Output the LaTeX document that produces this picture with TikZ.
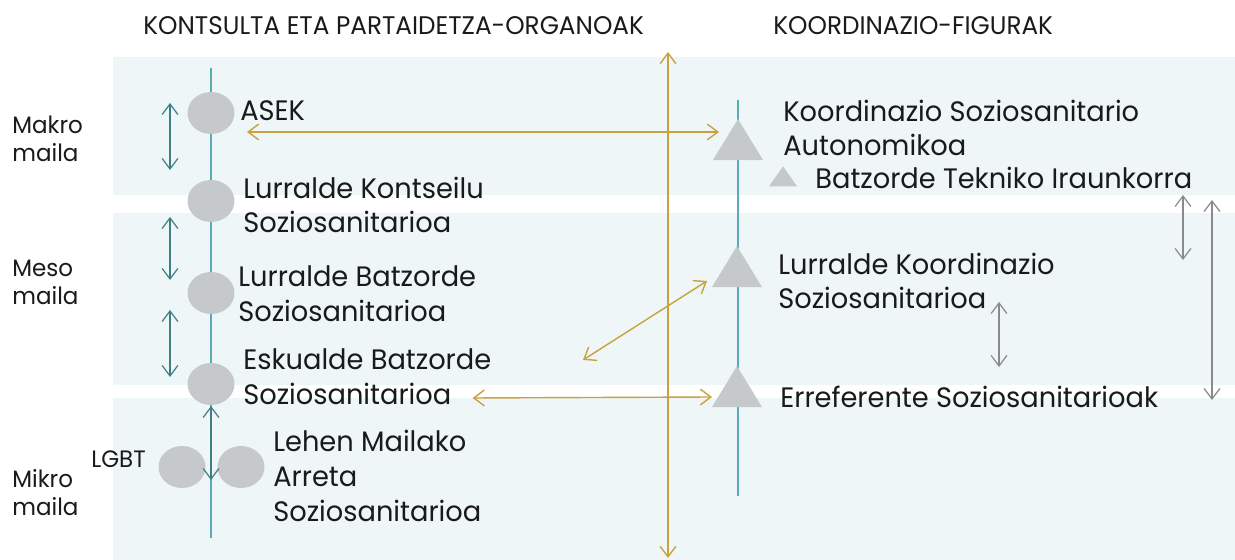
\documentclass[tikz,border=0pt]{standalone}
\usepackage{fontspec}
\setmainfont[FakeStretch=0.97]{Poppins}
\usetikzlibrary{arrows.meta,shapes.geometric}

\definecolor{bandblue}{HTML}{EEF6F8}
\definecolor{axisteal}{HTML}{5BABB7}
\definecolor{linkteal}{HTML}{3E7F86}
\definecolor{linkgold}{HTML}{C9A23F}
\definecolor{linkgray}{HTML}{8A8A8A}
\definecolor{markgray}{HTML}{C6C9CC}
\definecolor{inkblack}{HTML}{1A1A1A}

\tikzset{
  organ/.style={ellipse,fill=markgray,minimum width=0.94cm,minimum height=0.84cm,inner sep=0},
  figmark/.style={isosceles triangle,isosceles triangle stretches,shape border rotate=90,
    fill=markgray,inner sep=0,minimum width=1.0cm,minimum height=0.82cm},
  lbl/.style={anchor=west,align=left,inner sep=0,text=inkblack,font=\fontsize{16}{19.8}\selectfont},
  levellbl/.style={anchor=west,align=left,inner sep=0,text=inkblack,font=\fontsize{13.5}{16}\selectfont},
  headlbl/.style={anchor=west,inner sep=0,text=inkblack,font=\fontsize{14.5}{17}\selectfont},
  barbs/.style={{Straight Barb[length=6pt,width=9pt]}-{Straight Barb[length=6pt,width=9pt]}},
  teallink/.style={barbs,draw=linkteal,line width=0.7pt},
  goldlink/.style={barbs,draw=linkgold,line width=0.8pt},
  graylink/.style={barbs,draw=linkgray,line width=0.7pt},
  axis/.style={draw=axisteal,line width=1.2pt}
}

\begin{document}
\begin{tikzpicture}[x=0.02cm,y=-0.02cm]
  \useasboundingbox (0,0) rectangle (1235,560);

  % bands for the three levels
  \fill[bandblue] (113,57) rectangle (1235,195);
  \fill[bandblue] (113,213) rectangle (1235,385);
  \fill[bandblue] (113,398) rectangle (1235,560);

  % headers
  \node[headlbl] (hleft) at (143,26) {KONTSULTA ETA PARTAIDETZA-ORGANOAK};
  \node[headlbl] (hright) at (773,26) {KOORDINAZIO-FIGURAK};

  % level names
  \node[levellbl] (makro) at (12,139) {Makro\\maila};
  \node[levellbl] (meso) at (12,282) {Meso\\maila};
  \node[levellbl] (mikro) at (12,493) {Mikro\\maila};

  % axes
  \draw[axis] (211,68) -- (211,538);
  \draw[axis] (738,100) -- (738,496);

  % consultation organs
  \node[organ] (asek) at (211,113) {};
  \node[organ] (lks) at (211,201) {};
  \node[organ] (lbs) at (211,293) {};
  \node[organ] (ebs) at (211,384) {};
  \node[organ] (lgbt1) at (182,467) {};
  \node[organ] (lgbt2) at (241,467) {};

  \node[lbl] (asektxt) at (240,111) {ASEK};
  \node[lbl] (lkstxt) at (243,205) {Lurralde Kontseilu\\Soziosanitarioa};
  \node[lbl] (lbstxt) at (238,294) {Lurralde Batzorde\\Soziosanitarioa};
  \node[lbl] (ebstxt) at (243,377) {Eskualde Batzorde\\Soziosanitarioa};
  \node[lbl] (lmatxt) at (273,476) {Lehen Mailako\\Arreta\\Soziosanitarioa};
  \node[levellbl] (lgbttxt) at (91,459) {LGBT};

  % coordination figures
  \node[figmark] (ksa) at (738,146) {};
  \node[figmark,minimum width=0.56cm,minimum height=0.4cm] (bti) at (783,179) {};
  \node[figmark] (lkz) at (737,273) {};
  \node[figmark] (ers) at (737,393) {};

  \node[lbl] (ksatxt) at (783,128) {Koordinazio Soziosanitario\\Autonomikoa};
  \node[lbl] (btitxt) at (815,178) {Batzorde Tekniko Iraunkorra};
  \node[lbl] (lkztxt) at (778,281) {Lurralde Koordinazio\\Soziosanitarioa};
  \node[lbl] (erstxt) at (780,397) {Erreferente Soziosanitarioak};

  % links between levels
  \coordinate (t1a) at (170,103); \coordinate (t1b) at (170,170);
  \coordinate (t2a) at (170,217); \coordinate (t2b) at (170,280);
  \coordinate (t3a) at (170,310); \coordinate (t3b) at (170,377);
  \coordinate (t4a) at (211,406); \coordinate (t4b) at (211,480);
  \draw[teallink] (t1a) -- (t1b);
  \draw[teallink] (t2a) -- (t2b);
  \draw[teallink] (t3a) -- (t3b);
  \draw[teallink] (t4a) -- (t4b);

  \coordinate (g1) at (1183,195); \coordinate (g2) at (1183,260);
  \coordinate (g3) at (1212,200); \coordinate (g4) at (1212,400);
  \coordinate (g5) at (999,302); \coordinate (g6) at (999,367);
  \draw[graylink] (g1) -- (g2);
  \draw[graylink] (g3) -- (g4);
  \draw[graylink] (g5) -- (g6);

  % links between both sides
  \coordinate (goldtop) at (668,52); \coordinate (goldbot) at (668,558);
  \draw[goldlink] (goldtop) -- (goldbot);
  \draw[goldlink] ([shift={(36,19)}]asek.center) -- ([shift={(-19,-14)}]ksa.center);
  \coordinate (diagend) at (583,360);
  \draw[goldlink] (diagend) -- ([shift={(-30,8)}]lkz.center);
  \path (ebstxt.east |- ers.center) ++(-19,5) coordinate (ebsport);
  \draw[goldlink] (ebsport) -- ([shift={(-25,4)}]ers.center);
\end{tikzpicture}
\end{document}
